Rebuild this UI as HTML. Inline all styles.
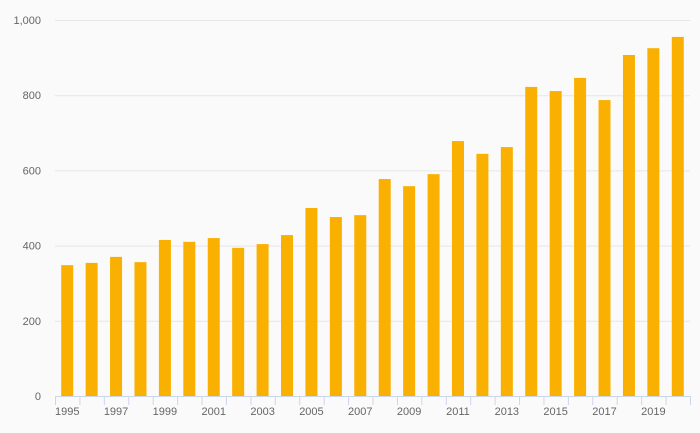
<!DOCTYPE html>
<html><head><meta charset="utf-8"><style>
html,body{margin:0;padding:0;background:#fafafa;}
svg{display:block;font-family:"Liberation Sans",sans-serif;}
</style></head><body>
<svg id="chart" width="700" height="433"></svg>
<script>
const years=[1995,1996,1997,1998,1999,2000,2001,2002,2003,2004,2005,2006,2007,2008,2009,2010,2011,2012,2013,2014,2015,2016,2017,2018,2019,2020];
const values=[348,354,370,356,415,410,420,394,404,428,500,476,481,577,558,590,678,644,662,822,811,846,787,907,925,955];
const yTicks=[0,200,400,600,800,1000];
const yTickLabels=["0","200","400","600","800","1,000"];
const NS="http://www.w3.org/2000/svg";
const svg=document.getElementById('chart');
const x0=55,x1=690,yb=396,yt=20,ymax=1000;
const bw=(x1-x0)/years.length;
const y=v=>yb-(v/ymax)*(yb-yt);
const xc=i=>x0+bw*(i+0.5);
function mk(t,a){const e=document.createElementNS(NS,t);for(const k in a)e.setAttribute(k,a[k]);svg.appendChild(e);return e;}
yTicks.forEach((v,i)=>{
 if(v>0){const g=mk('line',{x1:x0,x2:x1,y1:y(v)+0.5,y2:y(v)+0.5,stroke:'#e6e6e6','stroke-width':1});
 
 }
 const t=mk('text',{x:41,y:y(v)+4,'text-anchor':'end','font-size':11,fill:'#666'});
 t.textContent=yTickLabels[i];
 
 
});
years.forEach((yr,i)=>{
 const r=mk('rect',{x:xc(i)-6,y:y(values[i]),width:12,height:yb-y(values[i]),fill:'#f9b000'});
 
 
 if(i%2===0){const t=mk('text',{x:xc(i),y:415,'text-anchor':'middle','font-size':11,fill:'#666'});
 t.textContent=yr;
 
 }
});
for(let i=0;i<=years.length;i++){
 const tk=mk('line',{x1:x0+bw*i+0.5,x2:x0+bw*i+0.5,y1:yb,y2:yb+9,stroke:'#ccd6eb'});
 
 
}
const ax=mk('line',{x1:x0,x2:x1,y1:yb+0.5,y2:yb+0.5,stroke:'#ccd6eb'});


</script>
</body></html>
